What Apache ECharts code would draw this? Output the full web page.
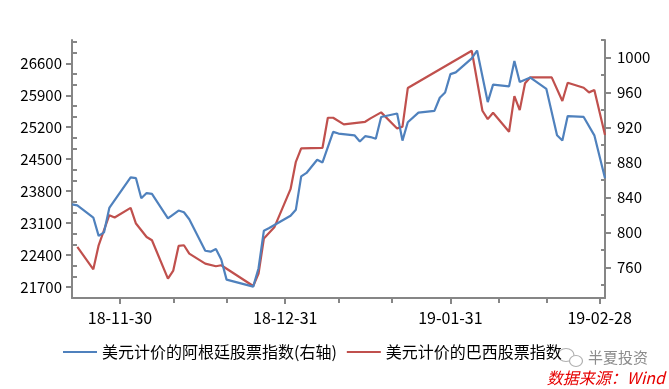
<!DOCTYPE html>
<html><head><meta charset="utf-8">
<script src="https://cdn.jsdelivr.net/npm/echarts@6/dist/echarts.min.js"></script>
<style>html,body{margin:0;padding:0;background:#fff}#c{width:669px;height:389px}</style>
</head><body><div id="c"></div>
<script>
// 美元计价的阿根廷股票指数 (right axis)
const argDates = ['2018-11-21','2018-11-22','2018-11-25','2018-11-26','2018-11-27','2018-11-28','2018-12-02','2018-12-03','2018-12-04','2018-12-05','2018-12-06','2018-12-09','2018-12-11','2018-12-12','2018-12-13','2018-12-16','2018-12-17','2018-12-18','2018-12-19','2018-12-20','2018-12-25','2018-12-26','2018-12-27','2018-12-28','2019-01-01','2019-01-02','2019-01-03','2019-01-04','2019-01-06','2019-01-07','2019-01-09','2019-01-10','2019-01-13','2019-01-14','2019-01-15','2019-01-16','2019-01-17','2019-01-18','2019-01-21','2019-01-22','2019-01-23','2019-01-25','2019-01-28','2019-01-29','2019-01-30','2019-01-31','2019-02-01','2019-02-04','2019-02-05','2019-02-07','2019-02-08','2019-02-11','2019-02-12','2019-02-13','2019-02-15','2019-02-18','2019-02-20','2019-02-21','2019-02-22','2019-02-25','2019-02-27','2019-03-01'];
const argValues = [832,831,817,796,800,828,863,862,839,845,844,816,825,823,815,779,778,781,769,746,738,759,802,805,819,826,864,868,883,880,915,913,911,904,910,909,907,932,936,905,926,937,939,954,960,981,983,999,1008,949,969,967,996,972,977,964,911,905,933,932,911,862];
// 美元计价的巴西股票指数 (left axis)
const braDates = ['2018-11-22','2018-11-25','2018-11-26','2018-11-28','2018-11-29','2018-12-02','2018-12-03','2018-12-05','2018-12-06','2018-12-09','2018-12-10','2018-12-11','2018-12-12','2018-12-13','2018-12-16','2018-12-18','2018-12-19','2018-12-25','2018-12-26','2018-12-27','2018-12-29','2019-01-01','2019-01-02','2019-01-03','2019-01-07','2019-01-08','2019-01-09','2019-01-11','2019-01-15','2019-01-16','2019-01-18','2019-01-21','2019-01-22','2019-01-23','2019-02-04','2019-02-06','2019-02-07','2019-02-08','2019-02-11','2019-02-12','2019-02-13','2019-02-14','2019-02-15','2019-02-19','2019-02-21','2019-02-22','2019-02-25','2019-02-26','2019-02-27','2019-03-01'];
const braValues = [22578,22089,22615,23273,23223,23433,23091,22797,22725,21885,22061,22600,22615,22433,22214,22155,22177,21723,21995,22762,23017,23843,24442,24736,24749,25407,25407,25262,25319,25393,25525,25174,25209,26058,26876,25560,25378,25516,25100,25882,25575,26161,26292,26292,25773,26174,26064,25963,26014,25027];
// ticks
const xTickDates = ['2018-11-30','2018-12-31','2019-01-31','2019-02-28'];
const xTickLabels = ['18-11-30','18-12-31','19-01-31','19-02-28'];
const xMinorTickDates = ['2018-12-10','2018-12-20','2019-01-10','2019-01-20','2019-02-09','2019-02-18'];
const leftTicks = [21700,22400,23100,23800,24500,25200,25900,26600];
const rightTicks = [760,800,840,880,920,960,1000];
const rightMinorTicks = [740,780,820,860,900,940,980,1020];
const seriesNames = ['美元计价的阿根廷股票指数(右轴)','美元计价的巴西股票指数'];

const BASE = Date.UTC(2018,10,30);
function dayNum(s){const p=s.split('-').map(Number);return (Date.UTC(p[0],p[1]-1,p[2])-BASE)/86400000;}
const LMIN=21460, LMAX=27110, RMIN=725, RMAX=1020;
const leftMinor=[];
for(let k=-1;k<30;k++){const v=21700+k*700/3; if(k%3!==0 && v>=LMIN && v<=LMAX) leftMinor.push(v);}
const xMajor = xTickDates.map(dayNum);
const FONT='"Microsoft YaHei","Noto Sans CJK SC",sans-serif';
const AX='#868686';
const plain = v => String(Math.round(v));
const chart = echarts.init(document.getElementById('c'));
chart.setOption({
  animation:false,
  backgroundColor:'#fff',
  textStyle:{fontFamily:FONT},
  grid:{left:72,right:64,top:40,bottom:91,outerBoundsMode:'none',containLabel:false},
  legend:{
    left:63, top:344, padding:0, itemWidth:34, itemHeight:2, itemGap:10, icon:'rect',
    textStyle:{fontSize:16,color:'#000',fontFamily:FONT},
    data:seriesNames
  },
  xAxis:[{
    type:'value', min:dayNum('2018-11-21'), max:dayNum('2019-03-01'), position:'bottom',
    axisLine:{show:true,onZero:false,lineStyle:{color:AX,width:2}},
    axisTick:{show:true,customValues:xMajor,length:6,lineStyle:{color:AX,width:2}},
    axisLabel:{customValues:xMajor,margin:12,fontSize:16,color:'#000',fontFamily:FONT,
      formatter:v=>{const i=xMajor.indexOf(v);return i>=0?xTickLabels[i]:'';}},
    splitLine:{show:false}
  },{
    type:'value', min:dayNum('2018-11-21'), max:dayNum('2019-03-01'), position:'bottom',
    axisLine:{show:false,onZero:false},
    axisTick:{show:true,customValues:xMinorTickDates.map(dayNum),length:5,lineStyle:{color:AX,width:2}},
    axisLabel:{show:false}, splitLine:{show:false}
  }],
  yAxis:[{
    type:'value', position:'left', min:LMIN, max:LMAX,
    axisLine:{show:true,onZero:false,lineStyle:{color:AX,width:2}},
    axisTick:{show:true,customValues:leftTicks,length:6,lineStyle:{color:AX,width:2}},
    axisLabel:{customValues:leftTicks,margin:10,fontSize:15,color:'#000',fontFamily:FONT,formatter:plain},
    splitLine:{show:false}
  },{
    type:'value', position:'right', min:RMIN, max:RMAX,
    axisLine:{show:true,onZero:false,lineStyle:{color:AX,width:2}},
    axisTick:{show:true,customValues:rightTicks,length:6,lineStyle:{color:AX,width:2}},
    axisLabel:{customValues:rightTicks,margin:12,fontSize:15,color:'#000',fontFamily:FONT,formatter:plain},
    splitLine:{show:false}
  },{
    type:'value', position:'left', min:LMIN, max:LMAX,
    axisLine:{show:false,onZero:false},
    axisTick:{show:true,inside:true,customValues:leftMinor,length:5,lineStyle:{color:AX,width:2}},
    axisLabel:{show:false}, splitLine:{show:false}
  },{
    type:'value', position:'right', min:RMIN, max:RMAX,
    axisLine:{show:false,onZero:false},
    axisTick:{show:true,inside:true,customValues:rightMinorTicks,length:4,lineStyle:{color:AX,width:2}},
    axisLabel:{show:false}, splitLine:{show:false}
  }],
  series:[{
    name:seriesNames[0], type:'line', yAxisIndex:1, xAxisIndex:0, z:3,
    symbol:'none', color:'#4F81BD', lineStyle:{width:2.2,color:'#4F81BD'},
    data:argDates.map((d,i)=>[dayNum(d),argValues[i]])
  },{
    name:seriesNames[1], type:'line', yAxisIndex:0, xAxisIndex:0, z:2,
    symbol:'none', color:'#C0504D', lineStyle:{width:2.2,color:'#C0504D'},
    data:braDates.map((d,i)=>[dayNum(d),braValues[i]])
  }],
  graphic:[
    {type:'ellipse',shape:{cx:566,cy:355,rx:8,ry:6.5},style:{fill:'#fff',stroke:'#b0b0b0',lineWidth:1.2}},
    {type:'ellipse',shape:{cx:576,cy:361,rx:6.5,ry:5.5},style:{fill:'#fff',stroke:'#b0b0b0',lineWidth:1.2}},
    {type:'text',left:588,top:350,style:{text:'半夏投资',fontSize:15,fill:'#8c8c8c',fontFamily:FONT}},
    {type:'text',right:4,top:370,style:{text:'数据来源：Wind',fontSize:16,fontStyle:'italic',fill:'#e60000',fontFamily:FONT}}
  ]
});
</script></body></html>
